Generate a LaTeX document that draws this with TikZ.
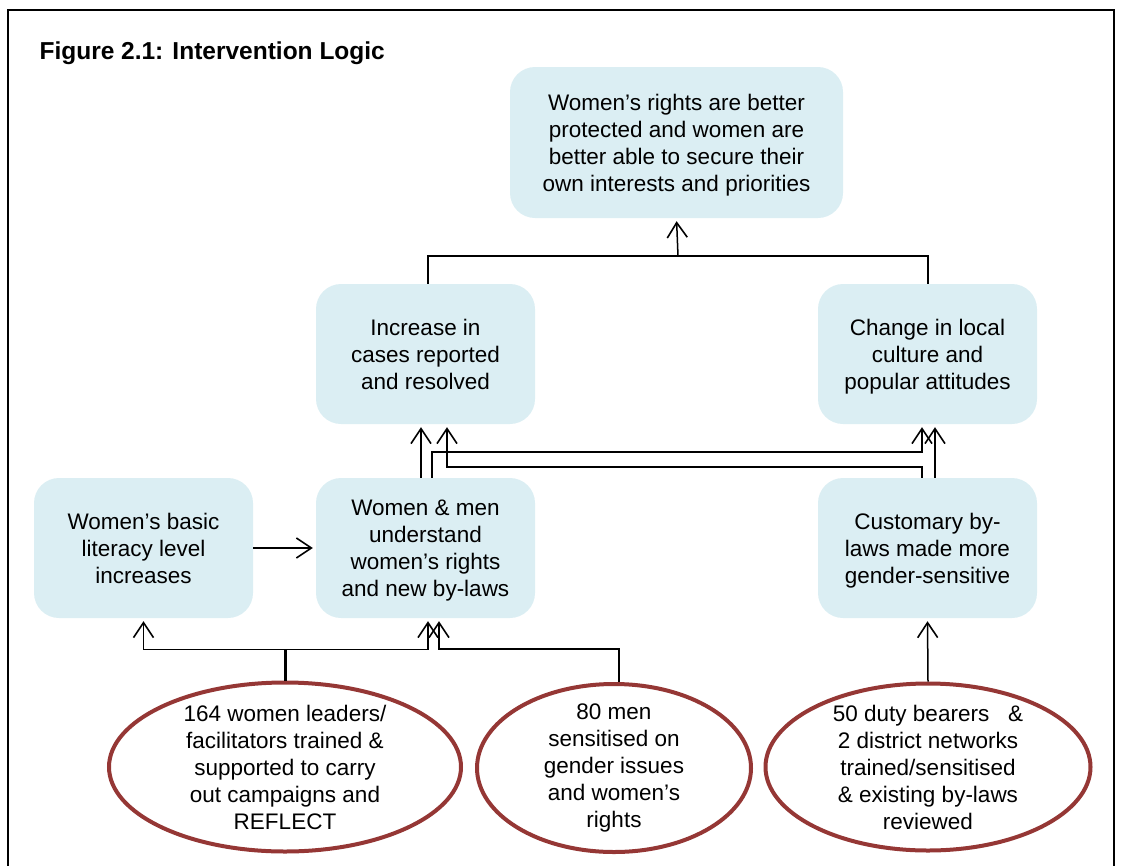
\documentclass[tikz,border=0pt]{standalone}
\usepackage{fontspec}
\setmainfont{Liberation Sans}
\usetikzlibrary{shapes.geometric, arrows.meta}

\definecolor{boxblue}{RGB}{219,238,243}
\definecolor{ovalred}{RGB}{149,55,53}

\begin{document}
\begin{tikzpicture}[x=1pt, y=1pt,
	box/.style={shape=rectangle, rounded corners=25pt, fill=boxblue, minimum width=219pt, minimum height=140pt, align=center, font=\fontsize{22.5}{27}\selectfont, text depth=-3pt},
	oval/.style={shape=ellipse, draw=ovalred, line width=4pt, inner sep=0pt},
	ovaltext/.style={align=center, font=\fontsize{22.5}{27}\selectfont},
	link/.style={-{Straight Barb[length=15pt,width=20pt,line width=1.6pt]}, line width=1.5pt, black, shorten >=3pt}]
				\useasboundingbox (0,0) rectangle (1122,-865);
				\draw[line width=1.5pt] (8,-866) -- (8,-10) -- (1114,-10) -- (1114,-866);
				\node[anchor=base west, font=\fontsize{24.5}{29}\selectfont\bfseries] (T) at (36,-59) {Figure 2.1: Intervention Logic};
				
				\node[box, minimum width=333pt, minimum height=151pt] (A) at (676.5,-142.5) {Women’s rights are better\\protected and women are\\better able to secure their\\own interests and priorities};
				\node[box] (B) at (425.5,-354) {Increase in\\cases reported\\and resolved};
				\node[box] (C) at (927.5,-354) {Change in local\\culture and\\popular attitudes};
				\node[box] (D) at (143.5,-548) {Women’s basic\\literacy level\\increases};
				\node[box] (E) at (425.5,-548) {Women \& men\\understand\\women’s rights\\and new by-laws};
				\node[box] (F) at (927.5,-548) {Customary by-\\laws made more\\gender-sensitive};
				
				\node[oval, minimum width=352pt, minimum height=169pt] (G) at (285,-767) {};
				\node[ovaltext] at (G) {164 women leaders/\\facilitators trained \&\\supported to carry\\out campaigns and\\REFLECT};
				\node[oval, minimum width=274pt, minimum height=168pt] (H) at (614,-768) {};
				\node[ovaltext] at (H) {80 men\\sensitised on\\gender issues\\and women’s\\rights};
				\node[oval, minimum width=325pt, minimum height=167pt] (I) at (928,-767) {};
				\node[ovaltext] at (I) {50 duty bearers ~ \&\\2 district networks\\trained/sensitised\\\& existing by-laws\\reviewed};
				
				% outcomes to goal
				\coordinate (J) at (678,-256);
				\draw[line width=1.5pt] ([xshift=2.5]B.north) |- (J) -| ([xshift=0.5]C.north);
				\path [link] (J) edge (A.south);
				
				% outputs to outcomes
				\path [link] ([xshift=-4.5]E.north) edge ([xshift=-4.5]B.south);
				\draw [link] ([xshift=6.5]E.north) -- ++(0,26) -| ([xshift=-5.5]C.south);
				\draw [link] ([xshift=-5.5]F.north) -- ++(0,11) -| ([xshift=21.5]B.south);
				\path [link] ([xshift=7.5]F.north) edge ([xshift=7.5]C.south);
				\path [link] (D.east) edge (E.west);
				
				% activities to outputs
				\draw[line width=3pt] (G.north) -- ++(0,31) coordinate (K);
				\draw [link] (K) -| (D.south);
				\draw [link] (K) -| ([xshift=2.5]E.south);
				\draw [link] ([xshift=5]H.north) -- ++(0,33) -| ([xshift=13.5]E.south);
				\path [link] (I.north) edge (F.south);
				\end{tikzpicture}
\end{document}
